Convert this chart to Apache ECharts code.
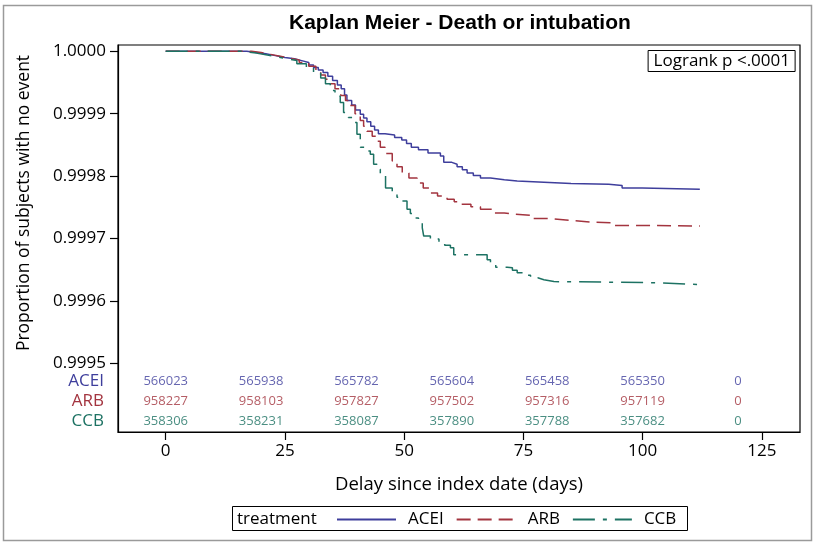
<!DOCTYPE html>
<html><head><meta charset="utf-8">
<script src="https://cdn.jsdelivr.net/npm/echarts@6/dist/echarts.min.js"></script>
<style>html,body{margin:0;padding:0;background:#fff}#c{width:816px;height:544px}</style>
</head><body><div id="c"></div>
<script>
// ---- data ----
const groups = ['ACEI', 'ARB', 'CCB'];
const aceiTime = [0,14,17,19,21,23,25,27,28.5,30,31,32,33,34,35,36,36.8,37.5,38,39,39.8,40.8,41.5,42.2,43,43.8,44.6,46,48,49.5,50.5,51.5,53,55,57.6,58.3,60,61.1,62.2,63.2,64.5,66,68.1,71,73.7,79.3,85,92.9,95.7,99.9,112];
const aceiSurv = [1,1,0.999998,0.999996,0.999993,0.99999,0.999988,0.999985,0.999982,0.999978,0.999974,0.99997,0.999966,0.99996,0.999953,0.999946,0.99994,0.99993,0.999921,0.999914,0.999906,0.999899,0.999893,0.999887,0.99988,0.999874,0.999868,0.999866,0.999862,0.999858,0.999852,0.999846,0.999842,0.999837,0.999832,0.999822,0.999819,0.999815,0.99981,0.999805,0.999801,0.999797,0.999794,0.999792,0.99979,0.999788,0.999787,0.999785,0.999781,0.999779,0.999779];
const arbTime = [0,14,18,20,22,24,26,28,30,31.5,32.5,33.5,34.5,35.5,36.7,37.7,38.7,39.7,40.8,41.5,42.2,43.3,44.3,45,46,47.5,48.5,49.6,51,52.7,54,55.5,57,59,60.5,61.8,64,66,68.8,71,73,76.5,80.7,84.9,89.8,94,101,112];
const arbSurv = [1,1,0.999998,0.999995,0.999992,0.999989,0.999986,0.999982,0.999976,0.99997,0.999962,0.999955,0.999948,0.99994,0.999929,0.999921,0.999913,0.9999,0.999889,0.99988,0.999872,0.999864,0.999856,0.999846,0.999836,0.999824,0.999815,0.999805,0.999797,0.999789,0.999781,0.999773,0.999768,0.999763,0.999759,0.999755,0.999751,0.999747,0.999741,0.999739,0.999737,0.999732,0.999729,0.999726,0.999725,0.999721,0.99972,0.99972];
const ccbTime = [0,13,16,19,21.3,23.5,25.5,27.5,29.5,31,32.5,33.5,34.5,35.5,36.6,37.3,38.3,39.4,40.1,40.8,41.8,42.9,43.6,44.3,45,46.1,47.5,48.5,49.6,50.6,51.3,52,53,53.8,54.1,55.5,57.3,58.5,59.7,60.4,67.4,68.1,69.2,71.6,72.7,73.7,75,76.5,78,79.3,81.4,103.8,112];
const ccbSurv = [1,1,0.999997,0.999994,0.999991,0.999988,0.999985,0.99998,0.999974,0.999966,0.999957,0.999948,0.999937,0.999928,0.999918,0.999902,0.999894,0.999886,0.999867,0.999846,0.99984,0.999835,0.999819,0.999811,0.999803,0.999781,0.999771,0.999766,0.99976,0.999747,0.99974,0.999733,0.999725,0.999717,0.999704,0.999699,0.999693,0.999689,0.999685,0.999674,0.999666,0.999661,0.999654,0.999653,0.999649,0.999645,0.999641,0.999637,0.999634,0.999631,0.999629,0.999626,0.999625];
const atRiskTimes = [0, 20, 40, 60, 80, 100, 120];
const atRiskACEI = [566023, 565938, 565782, 565604, 565458, 565350, 0];
const atRiskARB  = [958227, 958103, 957827, 957502, 957316, 957119, 0];
const atRiskCCB  = [358306, 358231, 358087, 357890, 357788, 357682, 0];
const yTicks = [0.9995, 0.9996, 0.9997, 0.9998, 0.9999, 1.0000];
const xTicks = [0, 25, 50, 75, 100, 125];

// ---- styles ----
const COL = {ACEI: '#3e3e9c', ARB: '#a3343f', CCB: '#1d7263'};
const FONT = 'Open Sans';
const zip = (t, s) => t.map((v, i) => [v, s[i]]);
const survData = {ACEI: zip(aceiTime, aceiSurv), ARB: zip(arbTime, arbSurv), CCB: zip(ccbTime, ccbSurv)};
const riskData = {ACEI: atRiskACEI, ARB: atRiskARB, CCB: atRiskCCB};
const dashType = {ACEI: 'solid', ARB: [14, 7], CCB: [22, 8, 4, 8]};

const chart = echarts.init(document.getElementById('c'), null, {renderer: 'canvas'});

const series = [];
groups.forEach(g => {
  series.push({
    name: g, type: 'line', step: 'end', symbol: 'none', showSymbol: false,
    xAxisIndex: 0, yAxisIndex: 0, color: COL[g],
    lineStyle: {color: COL[g], width: 1.5, type: dashType[g]},
    data: survData[g], silent: true
  });
});
groups.forEach(g => {
  series.push({
    type: 'scatter', xAxisIndex: 1, yAxisIndex: 1, symbolSize: 1,
    itemStyle: {color: 'transparent'}, silent: true,
    data: atRiskTimes.map((t, i) => [t, g, riskData[g][i]]),
    label: {show: true, position: 'inside', formatter: p => String(p.data[2]),
            color: COL[g], fontSize: 13, fontFamily: FONT}
  });
});

const option = {
  animation: false,
  backgroundColor: '#fff',
  title: [
    {text: 'Kaplan Meier - Death or intubation', left: 284, top: 8,
     textStyle: {fontSize: 21, fontWeight: 'bold', fontFamily: 'Liberation Sans', color: '#000'}},
    {text: 'Logrank p <.0001', right: 21, top: 50, padding: [3, 5, 2, 6],
     borderColor: '#000', borderWidth: 1,
     textStyle: {fontSize: 17, fontWeight: 'normal', fontFamily: FONT, color: '#000'}}
  ],
  grid: [
    {left: 118, right: 16, top: 45, bottom: 112, show: true, borderColor: '#000', borderWidth: 1.2, backgroundColor: 'transparent'},
    {left: 118, right: 16, top: 371, height: 60}
  ],
  xAxis: [
    {type: 'value', gridIndex: 0, min: -10, max: 133,
     name: 'Delay since index date (days)', nameLocation: 'middle', nameGap: 43,
     nameTextStyle: {fontSize: 18.5, fontFamily: FONT, color: '#000'},
     axisLine: {show: true, onZero: false, lineStyle: {color: '#000', width: 1.2}},
     axisTick: {show: true, length: 8, customValues: xTicks, lineStyle: {color: '#000', width: 1.2}},
     axisLabel: {customValues: xTicks, fontSize: 17, fontFamily: FONT, color: '#000', margin: 11},
     splitLine: {show: false}},
    {type: 'value', gridIndex: 1, min: -10, max: 133, show: false}
  ],
  yAxis: [
    {type: 'value', gridIndex: 0, min: 0.99939, max: 1.00001,
     axisLine: {show: true, onZero: false, lineStyle: {color: '#000', width: 1.2}},
     axisTick: {show: true, length: 8, customValues: yTicks, lineStyle: {color: '#000', width: 1.2}},
     axisLabel: {customValues: yTicks, fontSize: 17, fontFamily: FONT, color: '#000', margin: 12,
                 formatter: v => v.toFixed(4)},
     splitLine: {show: false}},
    {type: 'category', gridIndex: 1, data: groups, inverse: true,
     axisLine: {show: false}, axisTick: {show: false}, splitLine: {show: false},
     axisLabel: {interval: 0, margin: 14, fontSize: 17, fontFamily: FONT,
       formatter: v => '{' + v + '|' + v + '}',
       rich: {ACEI: {color: COL.ACEI, fontSize: 17, fontFamily: FONT},
              ARB: {color: COL.ARB, fontSize: 17, fontFamily: FONT},
              CCB: {color: COL.CCB, fontSize: 17, fontFamily: FONT}}}}
  ],
  legend: {
    data: groups, left: 336, top: 511, itemWidth: 59, itemHeight: 14, itemGap: 12,
    padding: 0, selectedMode: false,
    itemStyle: {opacity: 0},
    textStyle: {fontSize: 17, fontFamily: FONT, color: '#000', padding: [0, 0, 0, 7]}
  },
  graphic: [
    {type: 'rect', silent: true, shape: {x: 3.5, y: 5.5, width: 808, height: 535},
     style: {fill: 'none', stroke: '#9a9a9a', lineWidth: 1.5}},
    {type: 'rect', silent: true, shape: {x: 232.5, y: 506.5, width: 455, height: 24},
     style: {fill: 'none', stroke: '#000', lineWidth: 1}},
    {type: 'text', silent: true, x: 237, y: 519,
     style: {text: 'treatment', fontSize: 17, fontFamily: FONT, fill: '#000', textVerticalAlign: 'middle'}},
    {type: 'text', silent: true, x: 24, y: 203, rotation: Math.PI / 2,
     style: {text: 'Proportion of subjects with no event', fontSize: 17.5, fontFamily: FONT, fill: '#000',
             textAlign: 'center', textVerticalAlign: 'middle'}}
  ],
  series: series
};
chart.setOption(option);
</script>
</body></html>
